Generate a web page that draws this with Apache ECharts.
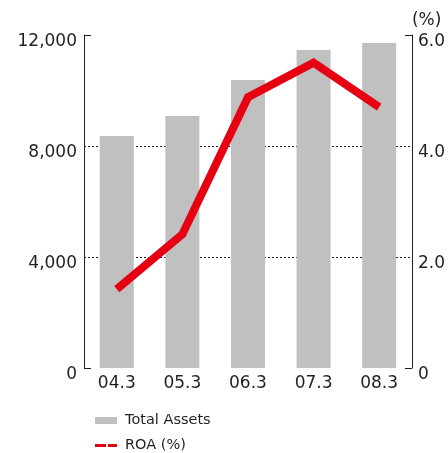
<!DOCTYPE html>
<html>
<head>
<meta charset="utf-8">
<script src="https://cdn.jsdelivr.net/npm/echarts@6/dist/echarts.min.js"></script>
<style>
    html, body { margin: 0; padding: 0; background: #fff; }
    #chart { width: 448px; height: 453px; }
</style>
</head>
<body>
<div id="chart"></div>
<script>
var categories = ['04.3', '05.3', '06.3', '07.3', '08.3'];
var totalAssets = [8360, 9080, 10380, 11460, 11710];
var roa = [1.42, 2.41, 4.88, 5.50, 4.70];
var leftTicks = [0, 4000, 8000, 12000];
var rightTicks = [0, 2, 4, 6];

var textColor = '#231f20';
var fontName = 'DejaVu Sans';

var option = {
    animation: false,
    textStyle: { fontFamily: fontName, color: textColor },
    grid: { left: 84, right: 30, top: 35, bottom: 85 },
    legend: [
        {
            data: ['Total Assets'],
            left: 95,
            top: 413,
            padding: 0,
            icon: 'rect',
            itemWidth: 22,
            itemHeight: 7,
            textStyle: { fontFamily: fontName, fontSize: 14.5, color: textColor, padding: [0, 0, 0, 3] }
        },
        {
            data: ['ROA (%)'],
            left: 95,
            top: 438,
            padding: 0,
            icon: 'path://M0,0h11v3h-11z M13,0h9v3h-9z',
            itemWidth: 22,
            itemHeight: 3,
            textStyle: { fontFamily: fontName, fontSize: 14.5, color: textColor, padding: [0, 0, 0, 3] }
        }
    ],
    xAxis: {
        type: 'category',
        data: categories,
        axisLine: { show: false },
        axisTick: { show: false },
        axisLabel: { fontFamily: fontName, fontSize: 17, color: textColor, margin: 7 }
    },
    yAxis: [
        {
            type: 'value',
            position: 'left',
            min: leftTicks[0],
            max: leftTicks[leftTicks.length - 1],
            interval: 4000,
            axisLine: { show: true, lineStyle: { color: textColor, width: 1 } },
            axisTick: { show: false },
            axisLabel: {
                fontFamily: fontName, fontSize: 17, color: textColor, margin: 7,
                verticalAlign: 'top', lineHeight: 14,
                formatter: function (v) { return v.toLocaleString('en-US'); }
            },
            splitLine: {
                show: true,
                lineStyle: {
                    color: ['rgba(0,0,0,0)', '#222', '#222', 'rgba(0,0,0,0)'],
                    type: [2, 2],
                    width: 1
                }
            }
        },
        {
            type: 'value',
            position: 'right',
            min: rightTicks[0],
            max: rightTicks[rightTicks.length - 1],
            interval: 2,
            name: '(%)',
            nameLocation: 'end',
            nameGap: 14,
            nameTextStyle: { fontFamily: fontName, fontSize: 17, color: textColor, align: 'left', verticalAlign: 'middle' },
            axisLine: { show: true, lineStyle: { color: textColor, width: 1 } },
            axisTick: { show: false },
            axisLabel: {
                fontFamily: fontName, fontSize: 17, color: textColor, margin: 6,
                verticalAlign: 'top', lineHeight: 14,
                formatter: function (v) { return v === 0 ? '0' : v.toFixed(1); }
            },
            splitLine: { show: false }
        },
        {
            // end ticks only, left side
            type: 'value',
            position: 'left',
            min: 0,
            max: 12000,
            interval: 12000,
            axisLine: { show: false },
            axisTick: { show: true, inside: true, length: 7, lineStyle: { color: textColor, width: 1 } },
            axisLabel: { show: false },
            splitLine: { show: false }
        },
        {
            // end ticks only, right side
            type: 'value',
            position: 'right',
            min: 0,
            max: 6,
            interval: 6,
            axisLine: { show: false },
            axisTick: { show: true, inside: true, length: 7, lineStyle: { color: textColor, width: 1 } },
            axisLabel: { show: false },
            splitLine: { show: false }
        }
    ],
    series: [
        {
            name: 'Total Assets',
            type: 'bar',
            yAxisIndex: 0,
            barWidth: 34,
            data: totalAssets,
            itemStyle: { color: '#bfc0bf' }
        },
        {
            name: 'ROA (%)',
            type: 'line',
            yAxisIndex: 1,
            data: roa,
            symbol: 'none',
            itemStyle: { color: '#e60012' },
            lineStyle: { color: '#e60012', width: 8, join: 'miter', cap: 'butt' }
        }
    ]
};

var myChart = echarts.init(document.getElementById('chart'));
myChart.setOption(option);
</script>
</body>
</html>
